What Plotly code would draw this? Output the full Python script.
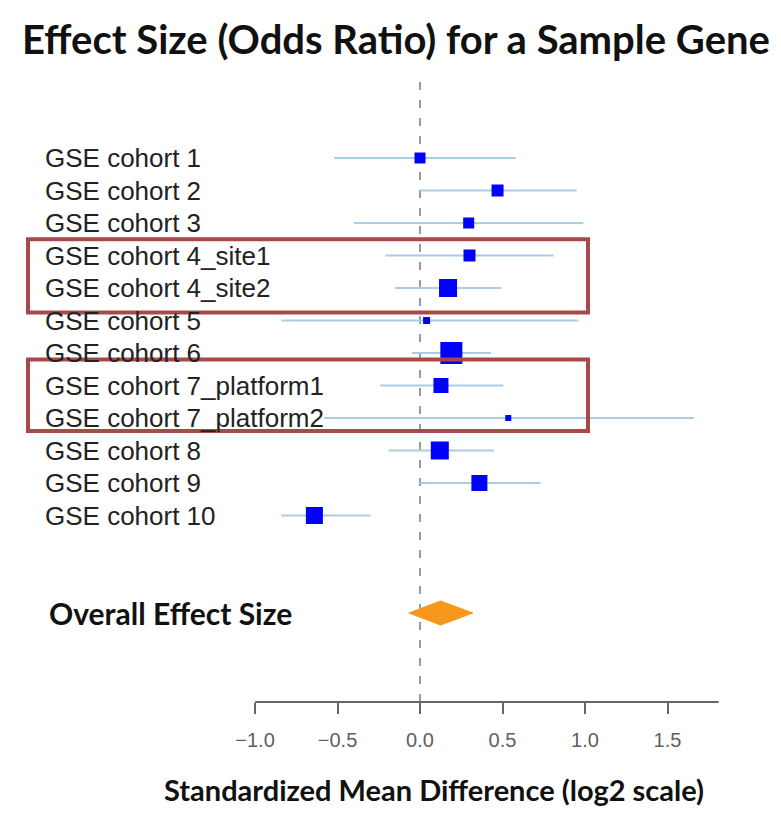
import plotly.graph_objects as go

# ---- data ----
cohorts = ["GSE cohort 1", "GSE cohort 2", "GSE cohort 3", "GSE cohort 4_site1",
           "GSE cohort 4_site2", "GSE cohort 5", "GSE cohort 6", "GSE cohort 7_platform1",
           "GSE cohort 7_platform2", "GSE cohort 8", "GSE cohort 9", "GSE cohort 10"]
effect = [0.00, 0.47, 0.295, 0.30, 0.17, 0.04, 0.19, 0.127, 0.535, 0.12, 0.36, -0.64]
ci_low = [-0.52, 0.00, -0.40, -0.21, -0.15, -0.84, -0.05, -0.24, -0.58, -0.19, 0.00, -0.84]
ci_high = [0.58, 0.95, 0.99, 0.81, 0.49, 0.96, 0.43, 0.505, 1.66, 0.45, 0.73, -0.30]
weights = [11, 12, 11, 12, 18, 7, 22, 15, 6, 18, 16, 17]

overall_label = "Overall Effect Size"
overall_effect = 0.125
overall_low = -0.067
overall_high = 0.32

tick_values = [-1.0, -0.5, 0.0, 0.5, 1.0, 1.5]
tick_labels = ["\u22121.0", "\u22120.5", "0.0", "0.5", "1.0", "1.5"]

highlight_groups = [(3, 4), (7, 8)]

# ---- layout geometry (page has an 8px body margin) ----
OFF = 8
W, H = 781 - 2 * OFF, 824 - 2 * OFF


def px(xp):
    return (xp - OFF) / W


rows = list(range(len(cohorts)))
overall_row = len(cohorts) + 2

fig = go.Figure()

fig.add_trace(go.Scatter(
    x=effect, y=rows, mode="markers",
    marker=dict(symbol="square", size=weights, color="#0000ff", opacity=1,
                line=dict(width=0)),
    error_x=dict(type="data", symmetric=False,
                 array=[h - e for h, e in zip(ci_high, effect)],
                 arrayminus=[e - l for e, l in zip(effect, ci_low)],
                 color="#abcde4", thickness=2, width=0),
    showlegend=False, hoverinfo="x+y",
))

dh = 0.37
fig.add_trace(go.Scatter(
    x=[overall_low, overall_effect, overall_high, overall_effect, overall_low],
    y=[overall_row, overall_row - dh, overall_row, overall_row + dh, overall_row],
    mode="lines", fill="toself", fillcolor="#f7981d",
    line=dict(color="#f7981d", width=1), showlegend=False,
))

shapes = []
shapes.append(dict(type="line", xref="x", yref="paper", x0=0, x1=0, y0=0, y1=1,
                   line=dict(color="#9a9aa4", width=2, dash="8px,10px"), layer="below"))
shapes.append(dict(type="line", xref="x", yref="paper", x0=-1.0, x1=1.81, y0=0, y1=0,
                   line=dict(color="#666666", width=2)))
pads = [(0.5, 0.75), (0.8, 0.4)]
for (a, b), (pt, pb) in zip(highlight_groups, pads):
    shapes.append(dict(type="rect", xref="paper", yref="y",
                       x0=px(28), x1=px(588), y0=a - pt, y1=b + pb,
                       line=dict(color="#a84a48", width=4)))

annotations = []
for i, name in enumerate(cohorts):
    annotations.append(dict(x=px(43), xref="paper", y=i, yref="y", text=name,
                            showarrow=False, xanchor="left", yanchor="middle",
                            font=dict(family="Liberation Sans, Arial", size=26, color="#222222")))
annotations.append(dict(x=px(47), xref="paper", y=overall_row, yref="y",
                        text="<b>" + overall_label + "</b>",
                        showarrow=False, xanchor="left", yanchor="middle",
                        font=dict(family="Lato", size=30, color="#111111")))

px_per_unit = 165.0
zero_px = 420.0 - OFF
y_px_per_unit = 32.5
top_m = 80 - OFF
plot_bottom = 702 - OFF
bot_m = H - plot_bottom
plot_h = plot_bottom - top_m
y_top = -(158 - OFF - top_m) / y_px_per_unit
y_bot = y_top + plot_h / y_px_per_unit

annotations.append(dict(x=px(434), xref="paper", y=-(789 - 702) / plot_h, yref="paper",
                        text="<b>Standardized Mean Difference (log2 scale)</b>",
                        showarrow=False, xanchor="center", yanchor="middle",
                        font=dict(family="Lato", size=29, color="#111111")))

fig.update_layout(
    width=W, height=H,
    margin=dict(l=0, r=0, t=top_m, b=bot_m),
    plot_bgcolor="white", paper_bgcolor="white",
    title=dict(text="<b>Effect Size (Odds Ratio) for a Sample Gene</b>",
               x=px(396), xanchor="center", xref="paper",
               y=1 - (40 - OFF) / H, yanchor="middle", yref="container",
               font=dict(family="Lato", size=40, color="#111111")),
    xaxis=dict(range=[-zero_px / px_per_unit, (W - zero_px) / px_per_unit],
               tickvals=tick_values, ticktext=tick_labels,
               ticks="outside", ticklen=11, tickwidth=2, tickcolor="#666666",
               ticklabelstandoff=9,
               tickfont=dict(family="Liberation Sans, Arial", size=20, color="#5f5f5f"),
               showgrid=False, zeroline=False, showline=False),
    yaxis=dict(range=[y_bot, y_top], visible=False, showgrid=False, zeroline=False),
    shapes=shapes, annotations=annotations,
)

fig.write_html("out.html")
